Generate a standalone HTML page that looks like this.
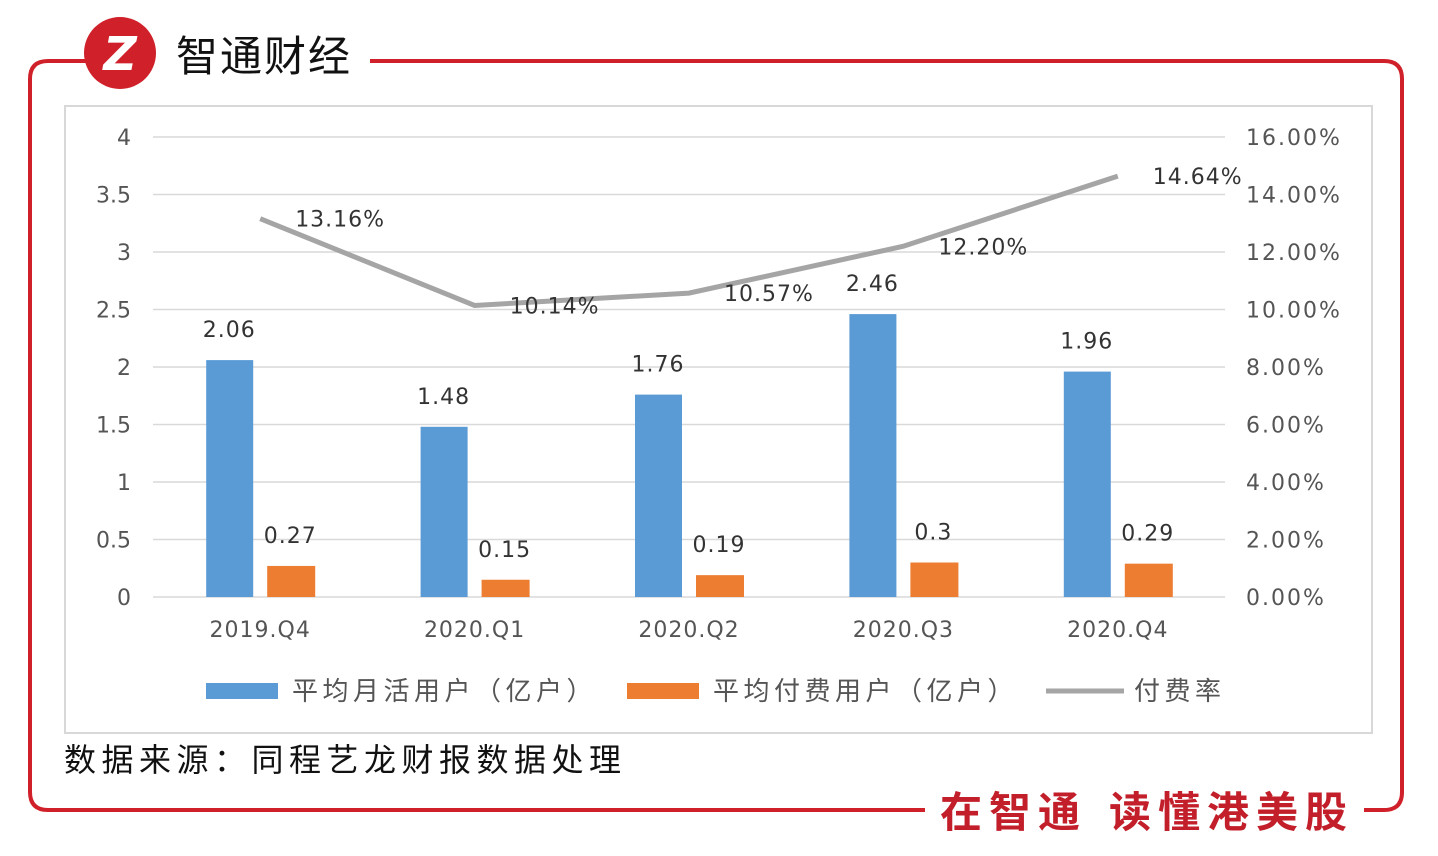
<!DOCTYPE html>
<html><head><meta charset="utf-8"><style>
body{margin:0;width:1438px;height:852px;background:#fff;overflow:hidden;font-family:"DejaVu Sans","Noto Sans CJK SC",sans-serif}
svg text{font-family:"DejaVu Sans","Noto Sans CJK SC",sans-serif}
</style></head><body>
<svg width="1438" height="852">
<path d="M110,61 H48 Q30,61 30,79 V792 Q30,810 48,810 H925" fill="none" stroke="#d0202a" stroke-width="4"/>
<path d="M370,61 H1384 Q1402,61 1402,79 V792 Q1402,810 1384,810 H1364" fill="none" stroke="#d0202a" stroke-width="4"/>
<g>
<circle cx="120" cy="53" r="36" fill="#d0202a"/>
<text x="120" y="70" font-size="46" font-weight="bold" fill="#fff" text-anchor="middle" font-style="italic">Z</text>
<text x="176" y="71" font-size="42" fill="#111" letter-spacing="2">智通财经</text>
</g>
<text x="940" y="827" font-size="42" font-weight="bold" fill="#c21f2a" letter-spacing="7">在智通<tspan dx="22">读懂港美股</tspan></text>
<rect x="65" y="106" width="1307" height="627" fill="#fff" stroke="#d8d8d8" stroke-width="2"/>
<g id="grid"></g><g id="bars"></g><g id="line"></g><g id="labels"></g>
<g font-size="26" fill="#555" letter-spacing="4.5">
<rect x="206" y="683" width="72" height="16" fill="#5b9bd5"/>
<text x="292" y="700">平均月活用户（亿户）</text>
<rect x="627" y="683" width="72" height="16" fill="#ed7d31"/>
<text x="713" y="700">平均付费用户（亿户）</text>
<line x1="1046" y1="691" x2="1124" y2="691" stroke="#a5a5a5" stroke-width="5"/>
<text x="1134" y="700">付费率</text>
</g>
<text x="64" y="771" font-size="32" fill="#111" letter-spacing="5.5">数据来源：同程艺龙财报数据处理</text>
</svg>
<script>
const categories=["2019.Q4","2020.Q1","2020.Q2","2020.Q3","2020.Q4"];
const mau=[2.06,1.48,1.76,2.46,1.96];
const paying=[0.27,0.15,0.19,0.3,0.29];
const rate=[13.16,10.14,10.57,12.20,14.64];
const leftTicks=["0","0.5","1","1.5","2","2.5","3","3.5","4"];
const rightTicks=["0.00%","2.00%","4.00%","6.00%","8.00%","10.00%","12.00%","14.00%","16.00%"];
const NS="http://www.w3.org/2000/svg";
const x0=153,x1=1225,yb=597,yt=137;
const yL=v=>yb-v/4*(yb-yt), yR=v=>yb-v/16*(yb-yt);
const band=(x1-x0)/categories.length, cx=i=>x0+band*(i+0.5);
function mk(t,a,p,txt){const e=document.createElementNS(NS,t);for(const k in a)e.setAttribute(k,a[k]);if(txt!=null)e.textContent=txt;document.getElementById(p).appendChild(e);return e;}
leftTicks.forEach((t,i)=>{const y=yL(i*0.5);
 const g=mk('line',{x1:x0,x2:x1,y1:y,y2:y,stroke:'#d9d9d9','stroke-width':1.5},'grid');
 
 
 const l=mk('text',{x:131,y:y+8,'font-size':22,fill:'#555','text-anchor':'end'},'grid',t);
 
 
 const r=mk('text',{x:1246,y:y+8,'font-size':22,fill:'#555','letter-spacing':2},'grid',rightTicks[i]);
 
 });
categories.forEach((c,i)=>{const x=cx(i);
 const b=mk('rect',{x:x-54,y:yL(mau[i]),width:47,height:yb-yL(mau[i]),fill:'#5b9bd5'},'bars');
 
 
 const o=mk('rect',{x:x+7,y:yL(paying[i]),width:48,height:yb-yL(paying[i]),fill:'#ed7d31'},'bars');
 
 
 const t1=mk('text',{x:x-31,y:yL(mau[i])-23,'font-size':22,fill:'#333','text-anchor':'middle','letter-spacing':1},'labels',String(mau[i]));
 
 
 const t2=mk('text',{x:x+30,y:yL(paying[i])-23,'font-size':22,fill:'#333','text-anchor':'middle','letter-spacing':1},'labels',String(paying[i]));
 
 
 const t3=mk('text',{x:x+35,y:yR(rate[i])+8,'font-size':22,fill:'#333','letter-spacing':1},'labels',rate[i].toFixed(2)+'%');
 
 
 const ct=mk('text',{x:x,y:637,'font-size':22,fill:'#555','text-anchor':'middle','letter-spacing':1},'labels',c);
 
 });
const pl=mk('polyline',{points:rate.map((v,i)=>cx(i)+','+yR(v)).join(' '),fill:'none',stroke:'#a5a5a5','stroke-width':5},'line');


</script>
</body></html>
